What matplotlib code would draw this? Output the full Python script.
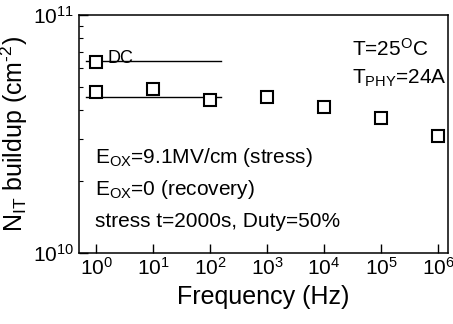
import matplotlib
matplotlib.use('Agg')
import matplotlib.pyplot as plt
from matplotlib.ticker import NullFormatter

plt.rcParams['font.family'] = ['Liberation Sans', 'DejaVu Sans']
plt.rcParams['mathtext.fontset'] = 'custom'
plt.rcParams['mathtext.rm'] = 'Liberation Sans'
plt.rcParams['mathtext.it'] = 'Liberation Sans:italic'
plt.rcParams['mathtext.default'] = 'regular'

# interface trap buildup after AC stress at different frequencies
freq = [1, 10, 100, 1e3, 1e4, 1e5, 1e6]
nit_ac = [4.73e10, 4.9e10, 4.39e10, 4.51e10, 4.12e10, 3.68e10, 3.1e10]
freq_dc = [1]
nit_dc = [6.36e10]

# reference levels (DC stress and 50% duty average)
ref_x = [0.67, 158]
ref_dc = 6.41e10
ref_ac = 4.52e10

fig = plt.figure(figsize=(4.53, 3.24), dpi=100)
ax = fig.add_axes([0.1744, 0.219, 0.8146, 0.735])

ax.plot(ref_x, [ref_dc, ref_dc], color='black', lw=1.0)
ax.plot(ref_x, [ref_ac, ref_ac], color='black', lw=1.0)
ax.plot(freq_dc, nit_dc, 's', ms=9, mfc='white', mec='black', mew=1.5)
ax.plot(freq, nit_ac, 's', ms=9, mfc='white', mec='black', mew=1.5)

ax.set_xscale('log')
ax.set_yscale('log')
ax.set_xlim(0.5, 1.5e6)
ax.set_ylim(1e10, 1e11)
ax.set_xticks([1, 10, 100, 1e3, 1e4, 1e5, 1e6])
ax.set_yticks([1e10, 1e11])
ax.xaxis.set_minor_formatter(NullFormatter())
ax.yaxis.set_minor_formatter(NullFormatter())

ax.tick_params(which='both', direction='in', top=False, right=False, labelsize=15)
ax.tick_params(which='major', length=6.5, width=1.0)
ax.tick_params(which='minor', length=3, width=0.8)
ax.tick_params(axis='x', pad=3)
for s in ax.spines.values():
    s.set_linewidth(1.1)

ax.set_xlabel('Frequency (Hz)', fontsize=18, labelpad=4)
ax.set_ylabel(r'N$_{IT}$ buildup (cm$^{\text{-}2}$)', fontsize=18, labelpad=2)

ax.text(0.076, 0.80, 'DC', transform=ax.transAxes, fontsize=13)
ax.text(0.74, 0.83, 'T=25$^{O}$C', transform=ax.transAxes, fontsize=15)
ax.text(0.74, 0.71, 'T$_{PHY}$=24A', transform=ax.transAxes, fontsize=15)
ax.text(0.043, 0.38, 'E$_{OX}$=9.1MV/cm (stress)', transform=ax.transAxes, fontsize=15)
ax.text(0.043, 0.245, 'E$_{OX}$=0 (recovery)', transform=ax.transAxes, fontsize=15)
ax.text(0.043, 0.11, 'stress t=2000s, Duty=50%', transform=ax.transAxes, fontsize=15)

fig.savefig('out.png', dpi=100)
